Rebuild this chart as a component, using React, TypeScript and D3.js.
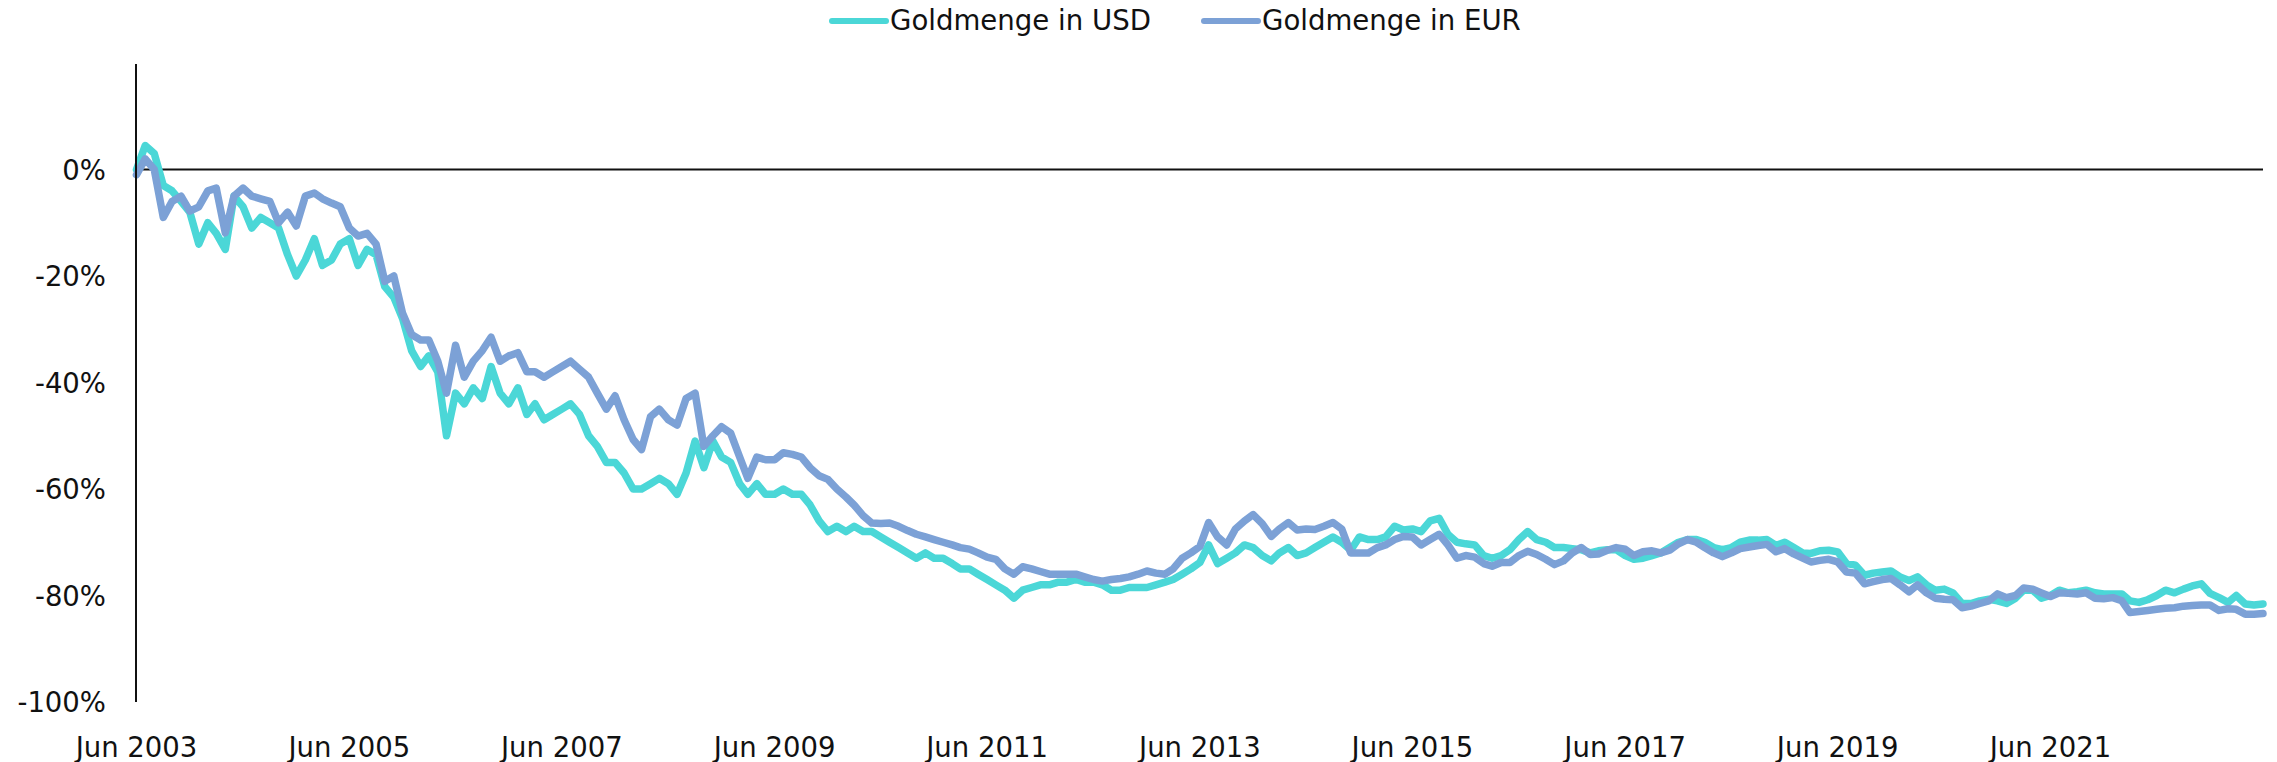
import React from "react";
import * as d3 from "d3";

// Monthly observations, Jun 2003 .. Jun 2023 (241 points), % change of gold quantity
const startYear = 2003;
const startMonth = 5; // June (0-based)

const usdValues: number[] = [
  0, 4.5, 3, -3, -4, -6, -8, -14, -10, -12, -15, -5, -7, -11, -9, -10, -11, -16, -20, -17,
  -13, -18, -17, -14, -13, -18, -15, -16, -22, -24, -28, -34, -37, -35, -38, -50, -42, -44, -41, -43,
  -37, -42, -44, -41, -46, -44, -47, -46, -45, -44, -46, -50, -52, -55, -55, -57, -60, -60, -59, -58,
  -59, -61, -57, -51, -56, -51, -54, -55, -59, -61, -59, -61, -61, -60, -61, -61, -63, -66, -68, -67,
  -68, -67, -68, -68, -69, -70, -71, -72, -73, -72, -73, -73, -74, -75, -75, -76, -77, -78, -79, -80.5,
  -79, -78.5, -78, -78, -77.5, -77.5, -77, -77.5, -77.5, -78, -79, -79, -78.5, -78.5, -78.5, -78, -77.5, -77, -76, -75,
  -73.8, -70.5, -74, -73, -72, -70.5, -71, -72.5, -73.5, -72, -71, -72.5, -72, -71, -70, -69, -70, -71.5, -69, -69.5,
  -69.5, -69, -67, -67.7, -67.5, -68, -66, -65.5, -68.5, -70, -70.3, -70.5, -72.5, -73, -72.5, -71.4, -69.5, -68, -69.5, -70,
  -71, -71, -71.2, -71.4, -72, -71.6, -71.4, -71.4, -72.5, -73.2, -73, -72.5, -72, -71, -70, -69.5, -69.5, -70, -71, -71.4,
  -71, -70, -69.6, -69.6, -69.5, -70.6, -70, -71, -72, -72.1, -71.6, -71.5, -71.8, -74, -74.3, -76.2, -75.8, -75.6, -75.4, -76.5,
  -77.2, -76.5, -78, -79, -78.8, -79.5, -81.5, -81.5, -81, -80.7, -81, -81.5, -80.5, -79, -79, -80.5, -80, -79, -79.5, -79.3,
  -79, -79.5, -79.7, -79.7, -79.7, -81, -81.3, -80.8, -80, -79, -79.5, -78.8, -78.2, -77.8, -79.6, -80.4, -81.3, -80, -81.6, -81.8,
  -81.6,
];

const eurValues: number[] = [
  -1, 2, 0, -9, -6, -5, -7.8, -7, -4, -3.5, -11.9, -5, -3.5, -5, -5.5, -6, -10, -8, -10.6, -5,
  -4.4, -5.5, -6.3, -7, -11, -12.5, -12, -14, -21, -20, -27, -31, -32, -32, -36, -42, -33, -39, -36, -34,
  -31.5, -36, -35, -34.4, -38, -38, -39, -38, -37, -36, -37.5, -39, -42, -45, -42.5, -47, -50.7, -52.6, -46.4, -45,
  -47, -48, -43, -42, -52, -50, -48.3, -49.5, -54, -58, -54, -54.5, -54.5, -53.2, -53.5, -54, -56, -57.5, -58.2, -60,
  -61.5, -63, -65, -66.4, -66.5, -66.4, -67, -67.8, -68.5, -69, -69.5, -70, -70.5, -71, -71.3, -72, -72.8, -73.2, -75, -76,
  -74.6, -75, -75.5, -76, -76, -76, -76, -76.5, -77, -77.3, -77, -76.8, -76.5, -76, -75.4, -75.8, -76, -75, -73, -72,
  -70.8, -66.3, -69, -70.5, -67.5, -66, -64.8, -66.5, -68.9, -67.5, -66.3, -67.7, -67.5, -67.6, -67, -66.3, -67.5, -72, -72, -72,
  -71, -70.5, -69.5, -68.9, -69, -70.5, -69.5, -68.5, -70.5, -73, -72.5, -72.8, -74, -74.5, -73.8, -73.8, -72.5, -71.7, -72.3, -73.2,
  -74.2, -73.5, -72, -71, -72.3, -72.2, -71.5, -71, -71.3, -72.5, -71.8, -71.6, -72, -71.5, -70.3, -69.5, -70, -71, -72, -72.7,
  -72, -71.2, -70.9, -70.6, -70.4, -71.8, -71.2, -72.2, -73, -73.7, -73.4, -73.2, -73.7, -75.6, -75.8, -77.8, -77.4, -77, -76.8, -78,
  -79.3, -78, -79.5, -80.5, -80.7, -80.8, -82.3, -82, -81.5, -81, -79.7, -80.4, -80, -78.6, -78.8, -79.5, -80.2, -79.5, -79.6, -79.7,
  -79.5, -80.5, -80.6, -80.4, -81, -83.2, -83, -82.8, -82.6, -82.4, -82.3, -82, -81.9, -81.8, -81.8, -82.8, -82.5, -82.6, -83.5, -83.5,
  -83.4,
];

const seriesNames = ["Goldmenge in USD", "Goldmenge in EUR"];
const seriesColors = ["#4bd7d7", "#7ca1d6"];

const xTickYears = [2003, 2005, 2007, 2009, 2011, 2013, 2015, 2017, 2019, 2021];
const xTickLabels = xTickYears.map((y) => `Jun ${y}`);
const yTicks = [0, -20, -40, -60, -80, -100];

const W = 2277;
const H = 762;
const FONT = "'DejaVu Sans', sans-serif";

const toDate = (m: number) => new Date(Date.UTC(startYear, startMonth + m, 1));

export default function App() {
  const x = d3
    .scaleUtc()
    .domain([toDate(0), toDate(usdValues.length - 1)])
    .range([136.5, 2263]);
  const y = d3.scaleLinear().domain([-100, 20]).range([702, 63]);

  const line = d3
    .line<number>()
    .x((_, i) => x(toDate(i)))
    .y((d) => y(d));

  const series = [usdValues, eurValues];

  const legendItems = [
    { lineX: 832, textX: 890 },
    { lineX: 1204, textX: 1262 },
  ];

  return (
    <div style={{ position: "fixed", left: 0, top: 0 }}>
      <svg width={W} height={H} style={{ display: "block", background: "#fff" }}>
        {/* legend */}
        {seriesNames.map((name, i) => (
          <g key={name}>
            <line
              x1={legendItems[i].lineX}
              x2={legendItems[i].lineX + 54}
              y1={21}
              y2={21}
              stroke={seriesColors[i]}
              strokeWidth={6}
              strokeLinecap="round"
            />
            <text
              x={legendItems[i].textX}
              y={30}
              fontFamily={FONT}
              fontSize={27.6}
              fill="#111"
            >
              {name}
            </text>
          </g>
        ))}

        {/* y tick labels */}
        {yTicks.map((t) => (
          <text
            key={t}
            x={106}
            y={y(t)}
            textAnchor="end"
            dominantBaseline="central"
            fontFamily={FONT}
            fontSize={27.5}
            fill="#111"
          >
            {`${t}%`}
          </text>
        ))}

        {/* x tick labels */}
        {xTickYears.map((yr, i) => (
          <text
            key={yr}
            x={x(new Date(Date.UTC(yr, 5, 1)))}
            y={757}
            textAnchor="middle"
            fontFamily={FONT}
            fontSize={27.5}
            fill="#111"
          >
            {xTickLabels[i]}
          </text>
        ))}

        {/* zero line */}
        <line x1={136} x2={2263} y1={y(0)} y2={y(0)} stroke="#111" strokeWidth={2} />

        {/* series */}
        {series.map((s, i) => (
          <path
            key={i}
            d={line(s) || ""}
            fill="none"
            stroke={seriesColors[i]}
            strokeWidth={7.5}
            strokeLinejoin="round"
            strokeLinecap="round"
          />
        ))}

        {/* y axis line */}
        <line x1={136} x2={136} y1={64} y2={702} stroke="#111" strokeWidth={2} />
      </svg>
    </div>
  );
}
